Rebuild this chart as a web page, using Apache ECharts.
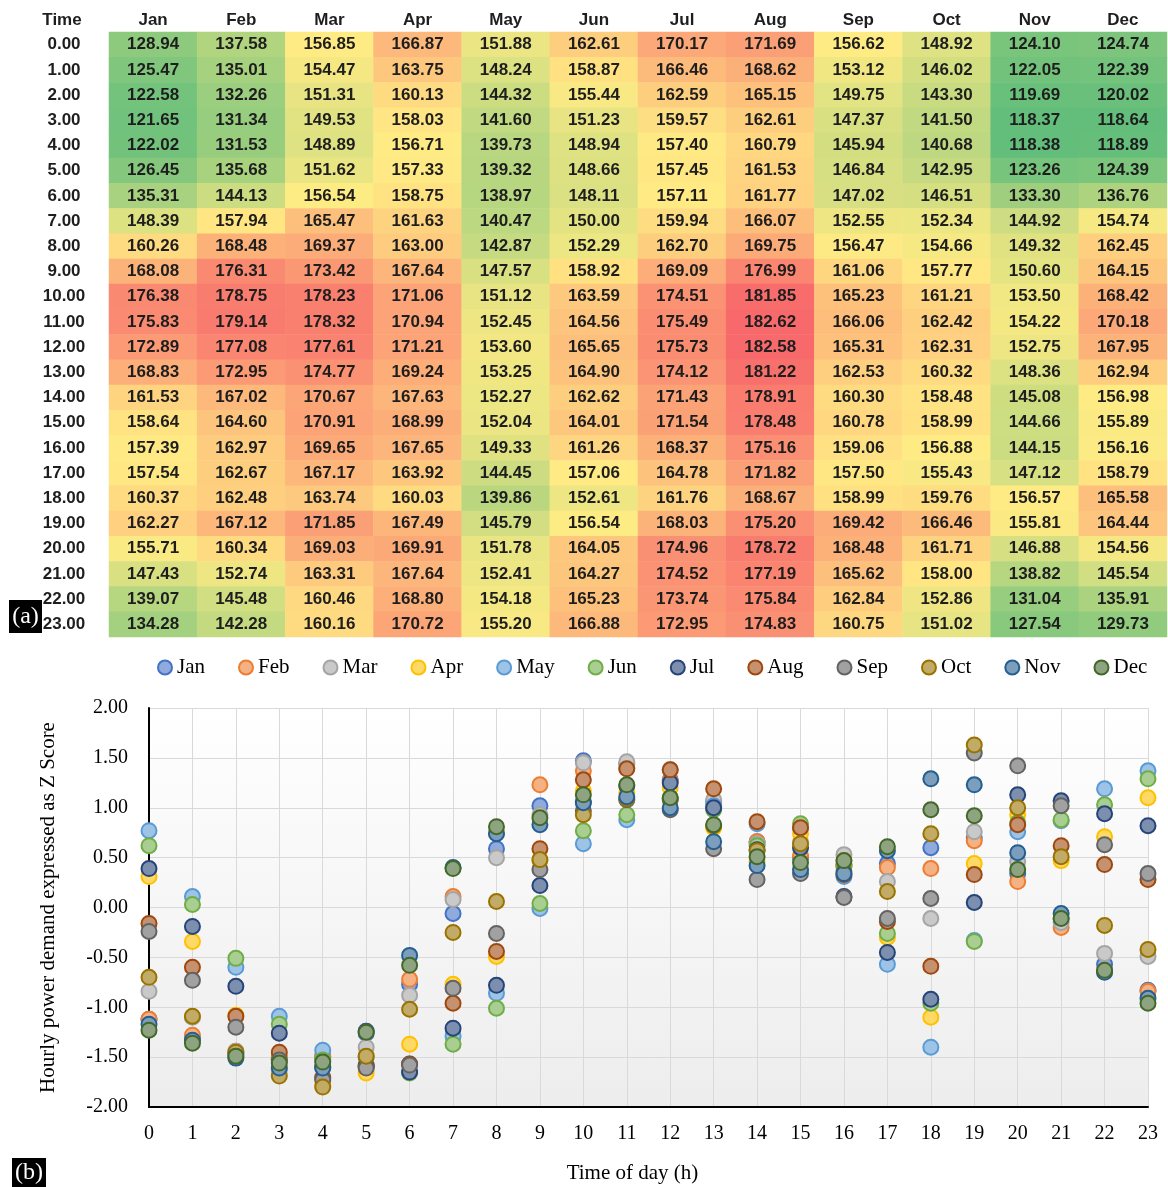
<!DOCTYPE html>
<html>
<head>
<meta charset="utf-8">
<script src="https://cdn.jsdelivr.net/npm/echarts@6.0.0/dist/echarts.min.js"></script>
<style>
  body { margin: 0; background: #fff; }
  #main { width: 1168px; height: 1187px; }
</style>
</head>
<body>
<div id="main"></div>
<script>
/*表格和散点的数据*/
var months = ['Jan', 'Feb', 'Mar', 'Apr', 'May', 'Jun', 'Jul', 'Aug', 'Sep', 'Oct', 'Nov', 'Dec'];
var hourLabels = ['0.00', '1.00', '2.00', '3.00', '4.00', '5.00', '6.00', '7.00', '8.00', '9.00', '10.00', '11.00',
                  '12.00', '13.00', '14.00', '15.00', '16.00', '17.00', '18.00', '19.00', '20.00', '21.00', '22.00', '23.00'];
var yTicks = [-2, -1.5, -1, -0.5, 0, 0.5, 1, 1.5, 2];

// hourly demand (table a)
var demandJan = [128.94, 125.47, 122.58, 121.65, 122.02, 126.45, 135.31, 148.39, 160.26, 168.08, 176.38, 175.83, 172.89, 168.83, 161.53, 158.64, 157.39, 157.54, 160.37, 162.27, 155.71, 147.43, 139.07, 134.28];
var demandFeb = [137.58, 135.01, 132.26, 131.34, 131.53, 135.68, 144.13, 157.94, 168.48, 176.31, 178.75, 179.14, 177.08, 172.95, 167.02, 164.60, 162.97, 162.67, 162.48, 167.12, 160.34, 152.74, 145.48, 142.28];
var demandMar = [156.85, 154.47, 151.31, 149.53, 148.89, 151.62, 156.54, 165.47, 169.37, 173.42, 178.23, 178.32, 177.61, 174.77, 170.67, 170.91, 169.65, 167.17, 163.74, 171.85, 169.03, 163.31, 160.46, 160.16];
var demandApr = [166.87, 163.75, 160.13, 158.03, 156.71, 157.33, 158.75, 161.63, 163.00, 167.64, 171.06, 170.94, 171.21, 169.24, 167.63, 168.99, 167.65, 163.92, 160.03, 167.49, 169.91, 167.64, 168.80, 170.72];
var demandMay = [151.88, 148.24, 144.32, 141.60, 139.73, 139.32, 138.97, 140.47, 142.87, 147.57, 151.12, 152.45, 153.60, 153.25, 152.27, 152.04, 149.33, 144.45, 139.86, 145.79, 151.78, 152.41, 154.18, 155.20];
var demandJun = [162.61, 158.87, 155.44, 151.23, 148.94, 148.66, 148.11, 150.00, 152.29, 158.92, 163.59, 164.56, 165.65, 164.90, 162.62, 164.01, 161.26, 157.06, 152.61, 156.54, 164.05, 164.27, 165.23, 166.88];
var demandJul = [170.17, 166.46, 162.59, 159.57, 157.40, 157.45, 157.11, 159.94, 162.70, 169.09, 174.51, 175.49, 175.73, 174.12, 171.43, 171.54, 168.37, 164.78, 161.76, 168.03, 174.96, 174.52, 173.74, 172.95];
var demandAug = [171.69, 168.62, 165.15, 162.61, 160.79, 161.53, 161.77, 166.07, 169.75, 176.99, 181.85, 182.62, 182.58, 181.22, 178.91, 178.48, 175.16, 171.82, 168.67, 175.20, 178.72, 177.19, 175.84, 174.83];
var demandSep = [156.62, 153.12, 149.75, 147.37, 145.94, 146.84, 147.02, 152.55, 156.47, 161.06, 165.23, 166.06, 165.31, 162.53, 160.30, 160.78, 159.06, 157.50, 158.99, 169.42, 168.48, 165.62, 162.84, 160.75];
var demandOct = [148.92, 146.02, 143.30, 141.50, 140.68, 142.95, 146.51, 152.34, 154.66, 157.77, 161.21, 162.42, 162.31, 160.32, 158.48, 158.99, 156.88, 155.43, 159.76, 166.46, 161.71, 158.00, 152.86, 151.02];
var demandNov = [124.10, 122.05, 119.69, 118.37, 118.38, 123.26, 133.30, 144.92, 149.32, 150.60, 153.50, 154.22, 152.75, 148.36, 145.08, 144.66, 144.15, 147.12, 156.57, 155.81, 146.88, 138.82, 131.04, 127.54];
var demandDec = [124.74, 122.39, 120.02, 118.64, 118.89, 124.39, 136.76, 154.74, 162.45, 164.15, 168.42, 170.18, 167.95, 162.94, 156.98, 155.89, 156.16, 158.79, 165.58, 164.44, 154.56, 145.54, 135.91, 129.73];

// Z score per hour (chart b)
var zJan = [-1.12, -1.31, -1.47, -1.52, -1.50, -1.26, -0.77, -0.06, 0.59, 1.02, 1.47, 1.44, 1.28, 1.06, 0.66, 0.50, 0.43, 0.44, 0.60, 0.70, 0.34, -0.11, -0.57, -0.83];
var zFeb = [-1.12, -1.28, -1.44, -1.50, -1.49, -1.24, -0.72, 0.11, 0.75, 1.23, 1.37, 1.40, 1.27, 1.02, 0.66, 0.52, 0.42, 0.40, 0.39, 0.67, 0.26, -0.20, -0.64, -0.84];
var zMar = [-0.84, -1.10, -1.44, -1.63, -1.70, -1.40, -0.88, 0.08, 0.50, 0.93, 1.45, 1.46, 1.38, 1.08, 0.64, 0.66, 0.53, 0.26, -0.11, 0.76, 0.46, -0.15, -0.46, -0.49];
var zApr = [0.31, -0.34, -1.08, -1.52, -1.79, -1.66, -1.37, -0.77, -0.49, 0.47, 1.17, 1.15, 1.20, 0.80, 0.46, 0.74, 0.47, -0.30, -1.10, 0.44, 0.93, 0.47, 0.71, 1.10];
var zMay = [0.77, 0.11, -0.60, -1.09, -1.43, -1.50, -1.57, -1.29, -0.86, -0.01, 0.64, 0.88, 1.09, 1.02, 0.84, 0.80, 0.31, -0.57, -1.40, -0.33, 0.76, 0.87, 1.19, 1.37];
var zJun = [0.62, 0.03, -0.51, -1.17, -1.53, -1.58, -1.66, -1.37, -1.01, 0.04, 0.77, 0.93, 1.10, 0.98, 0.62, 0.84, 0.41, -0.26, -0.96, -0.34, 0.85, 0.88, 1.03, 1.29];
var zJul = [0.39, -0.19, -0.79, -1.26, -1.60, -1.59, -1.65, -1.21, -0.78, 0.22, 1.06, 1.22, 1.25, 1.00, 0.58, 0.60, 0.11, -0.45, -0.92, 0.05, 1.13, 1.07, 0.94, 0.82];
var zAug = [-0.16, -0.60, -1.09, -1.45, -1.71, -1.60, -1.57, -0.96, -0.44, 0.59, 1.28, 1.39, 1.38, 1.19, 0.86, 0.80, 0.33, -0.14, -0.59, 0.33, 0.83, 0.62, 0.43, 0.28];
var zSep = [-0.24, -0.73, -1.20, -1.53, -1.73, -1.61, -1.58, -0.81, -0.26, 0.38, 0.97, 1.08, 0.98, 0.59, 0.28, 0.34, 0.10, -0.11, 0.09, 1.55, 1.42, 1.02, 0.63, 0.34];
var zOct = [-0.70, -1.09, -1.45, -1.69, -1.80, -1.49, -1.02, -0.25, 0.06, 0.48, 0.93, 1.09, 1.08, 0.82, 0.57, 0.64, 0.36, 0.16, 0.74, 1.63, 1.00, 0.51, -0.18, -0.42];
var zNov = [-1.17, -1.33, -1.51, -1.61, -1.61, -1.24, -0.48, 0.40, 0.74, 0.83, 1.05, 1.11, 1.00, 0.66, 0.42, 0.38, 0.34, 0.57, 1.29, 1.23, 0.55, -0.06, -0.65, -0.91];
var zDec = [-1.23, -1.36, -1.49, -1.56, -1.55, -1.25, -0.58, 0.39, 0.81, 0.90, 1.13, 1.23, 1.10, 0.83, 0.51, 0.45, 0.47, 0.61, 0.98, 0.92, 0.38, -0.11, -0.63, -0.96];

var demandCols = [demandJan, demandFeb, demandMar, demandApr, demandMay, demandJun, demandJul, demandAug, demandSep, demandOct, demandNov, demandDec];
var zCols = [zJan, zFeb, zMar, zApr, zMay, zJun, zJul, zAug, zSep, zOct, zNov, zDec];

/*颜色*/
var lineColors = ['#4472C4', '#ED7D31', '#A5A5A5', '#FFC000', '#5B9BD5', '#70AD47', '#264478', '#9E480E', '#636363', '#997300', '#255E91', '#43682B'];
var fillColors = ['#8FAADC', '#F4B183', '#C9C9C9', '#FFD966', '#9DC3E6', '#A9CE91', '#7D8FAE', '#C5916E', '#A1A1A1', '#C2AB66', '#7C9EBD', '#8EA480'];

var heatData = [];
for (var m = 0; m < months.length; m++) {
    for (var h = 0; h < hourLabels.length; h++) {
        heatData.push([m, h, demandCols[m][h]]);
    }
}

var serif = 'Liberation Serif';
var sans = 'Liberation Sans';

var series = [{
    name: 'demand',
    type: 'heatmap',
    xAxisIndex: 0,
    yAxisIndex: 0,
    data: heatData,
    itemStyle: { borderWidth: 0 },
    label: {
        show: true,
        fontFamily: sans,
        fontWeight: 'bold',
        fontSize: 17,
        color: '#1e1e1e',
        formatter: function (p) { return p.value[2].toFixed(2); }
    },
    emphasis: { disabled: true }
}];

for (var i = 0; i < months.length; i++) {
    series.push({
        name: months[i],
        type: 'scatter',
        xAxisIndex: 1,
        yAxisIndex: 1,
        symbol: 'circle',
        symbolSize: 15,
        data: zCols[i].map(function (v, k) { return [k, v]; }),
        itemStyle: {
            color: fillColors[i],
            borderColor: lineColors[i],
            borderWidth: 2,
            opacity: 1
        },
        emphasis: { disabled: true }
    });
}

var chart = echarts.init(document.getElementById('main'));
chart.setOption({
    animation: false,
    backgroundColor: '#ffffff',
    legend: {
        data: months,
        left: 152,
        top: 652,
        icon: 'circle',
        itemWidth: 14,
        itemHeight: 14,
        itemGap: 33,
        textStyle: { fontFamily: serif, fontSize: 21, color: '#000' }
    },
    visualMap: {
        show: false,
        type: 'continuous',
        seriesIndex: 0,
        dimension: 2,
        min: 118.37,
        max: 182.62,
        inRange: { color: ['#63BE7B', '#97CD7E', '#CBDC81', '#FFEB84', '#FCAA78', '#F8696B'] }
    },
    grid: [
        { left: 109, right: 1, top: 32, height: 605 },
        {
            left: 149, right: 20, top: 708, bottom: 80,
            show: true,
            borderWidth: 0,
            backgroundColor: {
                type: 'linear', x: 0, y: 0, x2: 0, y2: 1,
                colorStops: [{ offset: 0, color: '#ffffff' }, { offset: 1, color: '#ededed' }]
            }
        }
    ],
    xAxis: [
        {
            type: 'category',
            gridIndex: 0,
            data: months,
            position: 'top',
            axisLine: { show: false },
            axisTick: { show: false },
            splitLine: { show: false },
            axisLabel: { margin: 3, fontFamily: sans, fontWeight: 'bold', fontSize: 17, color: '#1e1e1e' }
        },
        {
            type: 'value',
            gridIndex: 1,
            min: 0,
            max: 23,
            interval: 1,
            name: 'Time of day (h)',
            nameLocation: 'middle',
            nameGap: 56,
            nameTextStyle: { fontFamily: serif, fontSize: 21, color: '#000', padding: [0, 32, 0, 0] },
            axisLine: { show: true, onZero: false, lineStyle: { color: '#000', width: 2 } },
            axisTick: { show: false },
            splitLine: { show: true, lineStyle: { color: '#d9d9d9', width: 1 } },
            axisLabel: { margin: 17, fontFamily: serif, fontSize: 20, color: '#000' }
        }
    ],
    yAxis: [
        {
            type: 'category',
            gridIndex: 0,
            data: hourLabels,
            inverse: true,
            axisLine: { show: false },
            axisTick: { show: false },
            splitLine: { show: false },
            axisLabel: { interval: 0, margin: 45, align: 'center', fontFamily: sans, fontWeight: 'bold', fontSize: 17, color: '#1e1e1e' }
        },
        {
            type: 'value',
            gridIndex: 1,
            min: yTicks[0],
            max: yTicks[yTicks.length - 1],
            interval: 0.5,
            name: 'Hourly power demand expressed as Z Score',
            nameLocation: 'middle',
            nameGap: 90,
            nameTextStyle: { fontFamily: serif, fontSize: 21, color: '#000' },
            axisLine: { show: true, onZero: false, lineStyle: { color: '#000', width: 2 } },
            axisTick: { show: false },
            splitLine: { show: true, lineStyle: { color: '#d9d9d9', width: 1 } },
            axisLabel: {
                margin: 21, fontFamily: serif, fontSize: 20, color: '#000',
                formatter: function (v) { return v.toFixed(2); }
            }
        }
    ],
    graphic: [
        {
            type: 'text', x: 62, y: 20,
            style: { text: 'Time', font: 'bold 17px ' + sans, fill: '#1e1e1e', textAlign: 'center', textVerticalAlign: 'middle' }
        },
        { type: 'rect', shape: { x: 9, y: 600, width: 33, height: 33 }, style: { fill: '#000' } },
        {
            type: 'text', x: 25.5, y: 617,
            style: { text: '(a)', font: '24px ' + serif, fill: '#fff', textAlign: 'center', textVerticalAlign: 'middle' }
        },
        { type: 'rect', shape: { x: 12, y: 1158, width: 34, height: 29 }, style: { fill: '#000' } },
        {
            type: 'text', x: 29, y: 1173,
            style: { text: '(b)', font: '24px ' + serif, fill: '#fff', textAlign: 'center', textVerticalAlign: 'middle' }
        }
    ],
    series: series
});
</script>
</body>
</html>
